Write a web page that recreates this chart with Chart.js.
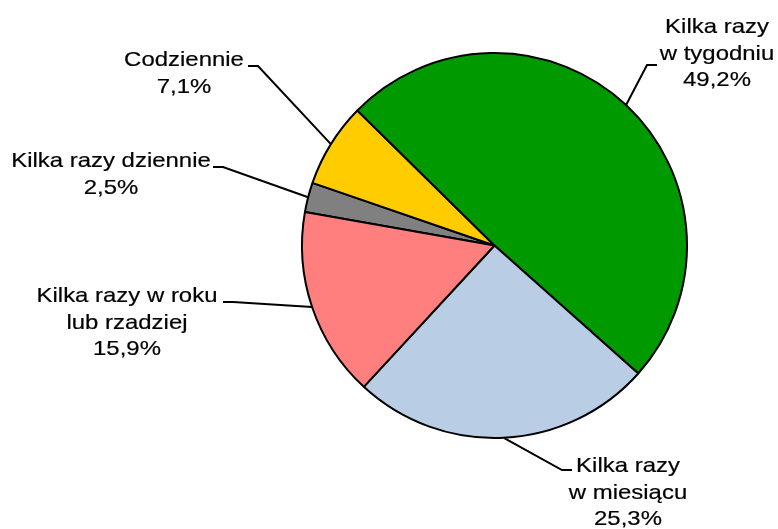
<!DOCTYPE html>
<html>
<head>
<meta charset="utf-8">
<script src="https://cdn.jsdelivr.net/npm/chart.js@4"></script>
<style>
    body { margin: 0; background: #fff; }
    #pie { display: block; }
</style>
</head>
<body>
<canvas id="pie" width="778" height="529"></canvas>
<script>
// Data, in clockwise order starting from the grey slice
const categories = [
    ['Kilka razy dziennie'],
    ['Codziennie'],
    ['Kilka razy', 'w tygodniu'],
    ['Kilka razy', 'w miesiącu'],
    ['Kilka razy w roku', 'lub rzadziej']
];
const shares = [2.5, 7.1, 49.2, 25.3, 15.9];
const sliceColors = ['#808080', '#ffcc00', '#009900', '#b9cde5', '#ff7f7f'];

// Where each label sits: text centre x, first baseline y, and the end of its leader line
const labelSpots = [
    { textX: 111, textY: 167, endX: 213, lineY: 167, dir: -1 },
    { textX: 184, textY: 66,  endX: 248, lineY: 66,  dir: -1 },
    { textX: 717, textY: 33,  endX: 657, lineY: 65,  dir: 1 },
    { textX: 628, textY: 472, endX: 572, lineY: 470, dir: 1 },
    { textX: 127, textY: 302, endX: 223, lineY: 302, dir: -1 }
];

const fmtPct = v => v.toFixed(1).replace('.', ',') + '%';

// Draws labels with leader lines, like Excel's outside-end labels
const leaderLabels = {
    id: 'leaderLabels',
    afterDraw(chart) {
        const ctx = chart.ctx;
        const arcs = chart.getDatasetMeta(0).data;
        ctx.save();
        ctx.strokeStyle = '#000';
        ctx.fillStyle = '#000';
        ctx.font = '21px "Liberation Sans", Arial, sans-serif';
        ctx.textAlign = 'center';
        ctx.textBaseline = 'alphabetic';

        arcs.forEach((arc, i) => {
            const p = arc.getProps(['x', 'y', 'startAngle', 'endAngle', 'outerRadius'], true);
            const mid = (p.startAngle + p.endAngle) / 2;
            const sx = p.x + Math.cos(mid) * p.outerRadius;
            const sy = p.y + Math.sin(mid) * p.outerRadius;
            const spot = labelSpots[i];
            const elbowX = spot.endX - spot.dir * 10;

            ctx.lineWidth = 2;
            ctx.beginPath();
            ctx.moveTo(sx, sy);
            ctx.lineTo(elbowX, spot.lineY);
            ctx.lineTo(spot.endX, spot.lineY);
            ctx.stroke();

            // a touch heavier than plain canvas text
            ctx.lineWidth = 0.2;
            const lines = categories[i].concat([fmtPct(shares[i])]);
            lines.forEach((txt, k) => {
                ctx.save();
                ctx.translate(spot.textX, spot.textY + k * 26.5);
                ctx.scale(1.14, 1);
                ctx.fillText(txt, 0, 0);
                ctx.strokeText(txt, 0, 0);
                ctx.restore();
            });
        });
        ctx.restore();
    }
};

new Chart(document.getElementById('pie').getContext('2d'), {
    type: 'pie',
    data: {
        labels: categories.map(c => c.join(' ')),
        datasets: [{
            data: shares,
            backgroundColor: sliceColors,
            borderColor: '#000',
            borderWidth: 2
        }]
    },
    options: {
        responsive: false,
        animation: false,
        rotation: -80,
        layout: {
            padding: { left: 301, right: 90, top: 52, bottom: 90 }
        },
        plugins: {
            legend: { display: false },
            tooltip: { enabled: false }
        }
    },
    plugins: [leaderLabels]
});
</script>
</body>
</html>
